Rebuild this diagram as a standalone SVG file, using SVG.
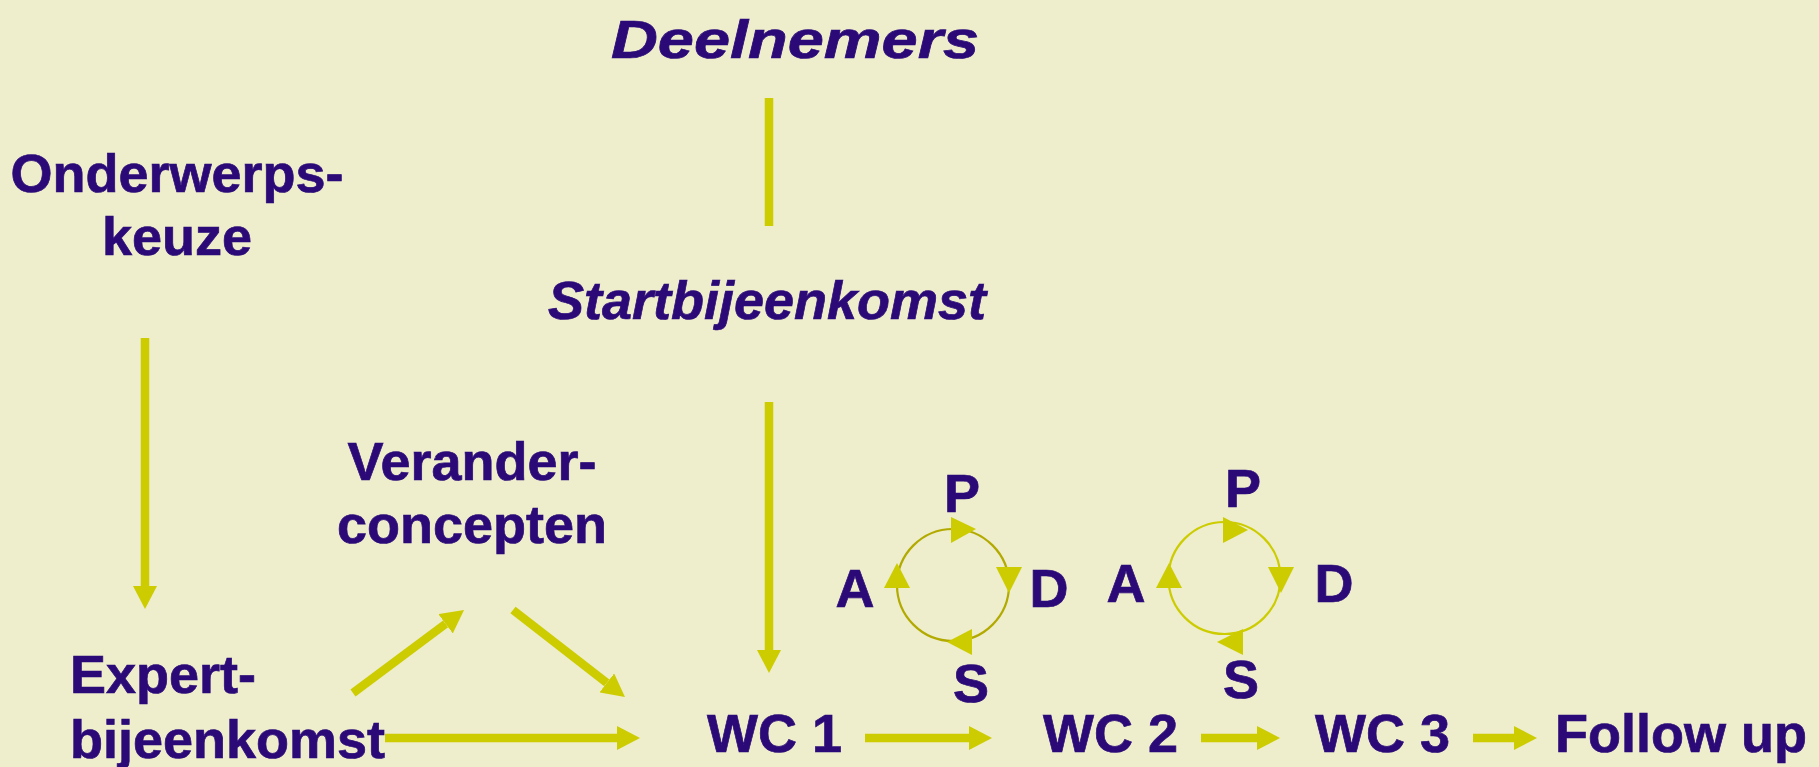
<svg xmlns="http://www.w3.org/2000/svg" width="1819" height="767" viewBox="0 0 1819 767">
<defs>
<style>
.t{font-family:"Liberation Sans",Arial,sans-serif;font-weight:bold;fill:#2b0a78;stroke:#2b0a78;stroke-width:0.7;font-size:54px}
.i{font-style:italic}
.c{text-anchor:middle}
.ln{stroke:#cccc00;stroke-width:8.5;fill:none}
.cyc{fill:none;stroke-width:2.2}
.tri{fill:#cccc00}
</style>
<marker id="ah" markerUnits="userSpaceOnUse" markerWidth="24" markerHeight="24" refX="0" refY="12" orient="auto">
<path d="M0,0 L23,12 L0,24 z" fill="#cccc00"/>
</marker>
</defs>
<rect width="1819" height="767" fill="#eeedcc"/>

<g id="connectors">
<line class="ln" x1="145" y1="338" x2="145" y2="586" marker-end="url(#ah)"/>
<line class="ln" x1="769" y1="98" x2="769" y2="226"/>
<line class="ln" x1="769" y1="402" x2="769" y2="650" marker-end="url(#ah)"/>
<line class="ln" x1="353" y1="693" x2="445.6" y2="623.8" marker-end="url(#ah)"/>
<line class="ln" x1="513" y1="610" x2="606.8" y2="682.9" marker-end="url(#ah)"/>
<line class="ln" x1="385" y1="738" x2="617" y2="738" marker-end="url(#ah)"/>
<line class="ln" x1="865" y1="738" x2="969" y2="738" marker-end="url(#ah)"/>
<line class="ln" x1="1201" y1="738" x2="1257" y2="738" marker-end="url(#ah)"/>
<line class="ln" x1="1473" y1="738" x2="1514" y2="738" marker-end="url(#ah)"/>
</g>

<g id="deelnemers"><text class="t i" x="611" y="58" font-size="70" textLength="368" lengthAdjust="spacingAndGlyphs">Deelnemers</text></g>
<g id="startbijeenkomst"><text class="t i c" x="767" y="319" font-size="52">Startbijeenkomst</text></g>
<g id="onderwerpskeuze"><text class="t c" x="177" y="192" font-size="54">Onderwerps-</text><text class="t c" x="177" y="255" font-size="54">keuze</text></g>
<g id="veranderconcepten"><text class="t c" x="472" y="480" font-size="53">Verander-</text><text class="t c" x="472" y="543" font-size="53">concepten</text></g>
<g id="expertbijeenkomst"><text class="t" x="70" y="693" font-size="53">Expert-</text><text class="t" x="70" y="758" font-size="53">bijeenkomst</text></g>
<g id="wc1"><text class="t" x="707" y="752" font-size="54">WC 1</text></g>
<g id="wc2"><text class="t" x="1043" y="752" font-size="54">WC 2</text></g>
<g id="wc3"><text class="t" x="1315" y="752" font-size="54">WC 3</text></g>
<g id="followup"><text class="t" x="1555" y="752" font-size="54">Follow up</text></g>

<g id="pdsa1">
<circle class="cyc" cx="953" cy="585" r="56" stroke="#b3aa00"/>
<polygon class="tri" points="951,517 976,529 951,543"/>
<polygon class="tri" points="996,567 1022,567 1009,593"/>
<polygon class="tri" points="972,629 972,655 947,642"/>
<polygon class="tri" points="884,588 910,588 897,563"/>
<text class="t c" x="962" y="512">P</text>
<text class="t c" x="1049" y="607">D</text>
<text class="t c" x="971" y="702">S</text>
<text class="t c" x="855" y="607">A</text>
</g>

<g id="pdsa2">
<circle class="cyc" cx="1224.5" cy="578" r="56" stroke="#cccc00"/>
<polygon class="tri" points="1223,517 1248,530 1223,543"/>
<polygon class="tri" points="1268,567 1294,567 1281,593"/>
<polygon class="tri" points="1243,629 1243,655 1217,642"/>
<polygon class="tri" points="1156,588 1182,588 1169,563"/>
<text class="t c" x="1243" y="507">P</text>
<text class="t c" x="1334" y="602">D</text>
<text class="t c" x="1241" y="698">S</text>
<text class="t c" x="1126" y="602">A</text>
</g>
</svg>
